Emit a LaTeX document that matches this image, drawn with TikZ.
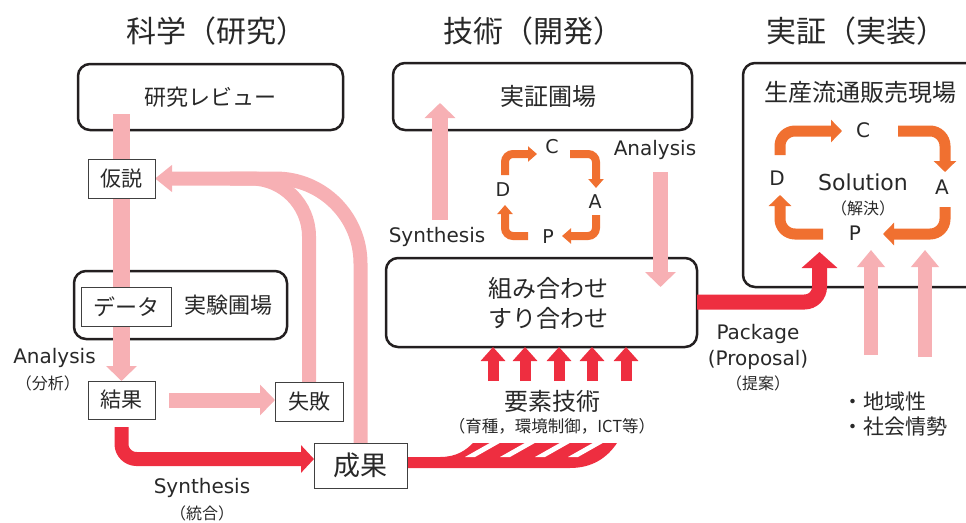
\documentclass[tikz,border=0pt]{standalone}
\usepackage{fontspec}
\setmainfont{Noto Sans CJK JP}
\newfontfamily\lat{DejaVu Sans}
\usetikzlibrary{arrows.meta,calc}
\definecolor{pinkc}{RGB}{247,176,180}
\definecolor{redc}{RGB}{238,46,64}
\definecolor{orc}{RGB}{240,112,48}
\definecolor{txt}{RGB}{40,40,40}
\definecolor{bord}{RGB}{35,31,32}
\pgfdeclarelayer{bg}
\pgfdeclarelayer{arr}
\pgfsetlayers{bg,arr,main}
\begin{document}
\begin{tikzpicture}[x=1pt,y=-1pt,
  every node/.style={text=txt,inner sep=0pt,outer sep=0pt},
  fs/.style={font=\fontsize{#1}{#1}\selectfont},
  rbox/.style={draw=bord,line width=2.5pt,rounded corners=12pt,fill=white},
  sbox/.style={draw=black!75,line width=0.9pt,fill=white},
  pinkarr/.style={draw=pinkc,line width=15pt,-{Triangle[width=30pt,length=15pt]}},
  pinkband/.style={draw=pinkc,line width=14pt},
  redarr/.style={draw=redc,line width=14pt,-{Triangle[width=27pt,length=13pt]}},
  redup/.style={draw=redc,line width=11pt,-{Triangle[width=24pt,length=14pt]}},
  orsmall/.style={draw=orc,line width=8pt,rounded corners=8pt,-{Triangle[width=15pt,length=9pt]}},
  orbig/.style={draw=orc,line width=11pt,rounded corners=15pt,-{Triangle[width=22pt,length=11pt]}}
]
\useasboundingbox (0,0) rectangle (966,522);

% titles
\node[fs=30] (t1) at (216,31) {科学（研究）};
\node[fs=30] (t2) at (533,31) {技術（開発）};
\node[fs=30] (t3) at (856,31) {実証（実装）};

% large rounded boxes
\begin{pgfonlayer}{bg}
\node[rbox,minimum width=265pt,minimum height=66pt,fs=22] (review) at (210.5,97) {研究レビュー};
\node[rbox,minimum width=213pt,minimum height=68pt] (jikken) at (180.5,305) {};
\node[rbox,minimum width=299pt,minimum height=67pt] (jissho) at (542.5,96.5) {};
\node[rbox,minimum width=311pt,minimum height=89pt] (kumi) at (541.5,302.5) {};
\begin{scope}
\clip (0,0) rectangle (966,522);
\node[rbox,minimum width=250pt,minimum height=224pt] (solbox) at (868,175) {};
\end{scope}
\end{pgfonlayer}

% small boxes and texts (science)
\node[sbox,minimum width=67pt,minimum height=39pt,fs=21] (kasetsu) at (121.5,178.5) {仮説};
\node[sbox,minimum width=90pt,minimum height=39pt,fs=22] (data) at (126,306.5) {データ};
\node[fs=22] (jikkentxt) at (228,305) {実験圃場};
\node[sbox,minimum width=67pt,minimum height=38pt,fs=21] (kekka) at (121.5,400) {結果};
\node[sbox,minimum width=68pt,minimum height=39pt,fs=21] (sippai) at (309,401.5) {失敗};
\node[sbox,minimum width=93pt,minimum height=45pt,fs=27] (seika) at (360.5,465.5) {成果};
\node[fs=20] (anL) at (54.5,358) {\lat Analysis};
\node[fs=16] (bunseki) at (48,383) {（分析）};
\node[fs=20] (synL) at (202,488) {\lat Synthesis};
\node[fs=16] (tougou) at (202,513) {（統合）};

% technology texts
\node[fs=24] (jisshotxt) at (548.5,96.5) {実証圃場};
\node[font=\fontsize{24}{30}\selectfont,align=center] (kumitxt) at (548.5,303) {組み合わせ\\すり合わせ};
\node[fs=20] (synM) at (437,237) {\lat Synthesis};
\node[fs=20] (anM) at (655,150) {\lat Analysis};
\node[fs=19] (sC) at (552,147) {\lat C};
\node[fs=19] (sD) at (503,190) {\lat D};
\node[fs=19] (sA) at (595,202) {\lat A};
\node[fs=19] (sP) at (548,237) {\lat P};
\node[fs=24] (yoso) at (552,401) {要素技術};
\node[fs=16.5] (yososub) at (552,426) {（育種，環境制御，ICT等）};

% implementation texts
\node[fs=24] (seisan) at (860,92) {生産流通販売現場};
\node[fs=22] (solution) at (863,182) {\lat Solution};
\node[fs=16] (kaiketsu) at (863,208) {（解決）};
\node[fs=20] (bC) at (863,130) {\lat C};
\node[fs=20] (bD) at (777,178) {\lat D};
\node[fs=20] (bA) at (942,187) {\lat A};
\node[fs=20] (bP) at (855,233) {\lat P};
\node[fs=20] (pkg) at (758,334) {\lat Package};
\node[fs=20] (prop) at (758,360) {\lat (Proposal)};
\node[fs=16] (teian) at (758,383) {（提案）};
\node[fs=21,anchor=west] (b1) at (842,402) {・地域性};
\node[fs=21,anchor=west] (b2) at (842,427) {・社会情勢};

% connectors
\begin{pgfonlayer}{arr}
\coordinate (revstart) at (121.5,114);
\draw[pinkarr,line width=17pt] (revstart) -- (kekka.north);
\draw[pinkarr,shorten <=14pt] (kekka.east) -- (kekka.east -| sippai.west);
\draw[pinkband,line width=14pt,rounded corners=85pt,-{Triangle[width=26pt,length=17pt]}] (seika.north) |- (kasetsu.east);
\coordinate (merge) at (230,178.5);
\draw[pinkband,rounded corners=58pt] (sippai.north) |- (merge);

\coordinate (synS) at (440,220);
\coordinate (synE) at (440,103);
\draw[pinkarr,line width=16pt] (synS) -- (synE);
\coordinate (anS) at (660.5,172);
\coordinate (anE) at (660.5,287);
\draw[pinkarr] (anS) -- (anE);

\coordinate (s1S) at (871,355);
\coordinate (s1E) at (871,250);
\coordinate (s2S) at (925,357);
\coordinate (s2E) at (925,250);
\draw[pinkband,-{Triangle[width=27pt,length=17pt]}] (s1S) -- (s1E);
\draw[pinkband,-{Triangle[width=27pt,length=17pt]}] (s2S) -- (s2E);

\draw[redarr,rounded corners=15pt,shorten <=8pt] (kekka.south) |- ($(seika.west)+(0,-6.5)$);

\fill[redc] ($(seika.east)+(0,-8.5)$) -- (440,457) .. controls (457,457) and (466,450) .. (473,443) -- (617,443) .. controls (607,458) and (592,468) .. (570,468) -- ($(seika.east)+(0,2.5)$) -- cycle;
\foreach \g in {490,525,560,593}
  \fill[white] (\g+5,440) -- (\g+15,440) -- (\g-15,457) -- (\g-25,457) -- cycle;

\foreach \x [count=\i] in {493,525,559,592,626} {
  \coordinate (ru\i) at (\x,381);
  \draw[redup] (ru\i) -- (ru\i |- kumi.south);
}

\coordinate (pkgE) at (819.5,252);
\draw[draw=redc,line width=15pt,rounded corners=15pt,-{Triangle[width=35pt,length=16pt]}] ($(kumi.east)+(0,-0.5)$) -| (pkgE);

% small PDCA
\coordinate (oDs) at (505,175); \coordinate (oCe) at (537,154);
\coordinate (oCs) at (570,154); \coordinate (oAe) at (596,188);
\coordinate (oAs) at (596,215); \coordinate (oPe) at (562,236);
\coordinate (oPs) at (528,236); \coordinate (oDe) at (505,205);
\draw[orsmall] (oDs) |- (oCe);
\draw[orsmall] (oCs) -| (oAe);
\draw[orsmall] (oAs) |- (oPe);
\draw[orsmall] (oPs) -| (oDe);

% big PDCA
\coordinate (bDs) at (780,155); \coordinate (bCe) at (842,131);
\coordinate (bCs) at (898,131); \coordinate (bAe) at (945,172);
\coordinate (bAs) at (945,207); \coordinate (bPe) at (883,234);
\coordinate (bPs) at (823,234); \coordinate (bDe) at (780,195);
\draw[orbig] (bDs) |- (bCe);
\draw[orbig] (bCs) -| (bAe);
\draw[orbig] (bAs) |- (bPe);
\draw[orbig] (bPs) -| (bDe);
\end{pgfonlayer}
\end{tikzpicture}
\end{document}
